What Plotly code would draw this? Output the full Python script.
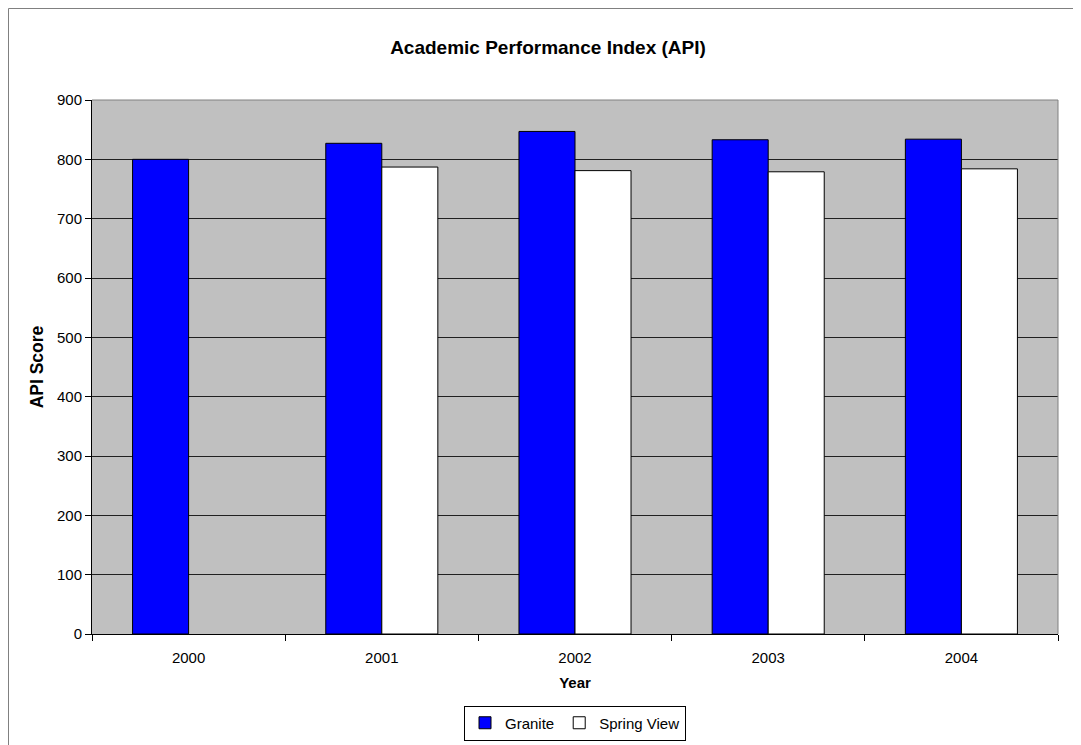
import plotly.graph_objects as go

years = ["2000", "2001", "2002", "2003", "2004"]
granite = [800, 827, 847, 833, 834]
spring_view = [None, 787, 781, 779, 784]

font_family = "Liberation Sans, Arial, sans-serif"

W, H = 1073, 737
ML, MR, MT, MB = 84, 23, 92, 111
PW, PH = W - ML - MR, H - MT - MB

fig = go.Figure()
fig.add_trace(go.Bar(x=years, y=granite, name="Granite",
                     marker=dict(color="#0000FF", line=dict(color="black", width=1))))
fig.add_trace(go.Bar(x=years, y=spring_view, name="Spring View",
                     marker=dict(color="#FFFFFF", line=dict(color="black", width=1))))

fig.update_layout(
    width=W, height=H,
    margin=dict(l=ML, r=MR, t=MT, b=MB, autoexpand=False),
    paper_bgcolor="white",
    plot_bgcolor="#C0C0C0",
    barmode="group",
    bargap=0.42,
    bargroupgap=0,
    font=dict(family=font_family, size=15, color="black"),
    title=dict(text="<b>Academic Performance Index (API)</b>", x=540 / W, xanchor="center",
               y=1 - 39 / H, yanchor="middle", font=dict(size=19, family=font_family)),
    showlegend=True,
    legend=dict(orientation="h", xref="paper", x=0.5, xanchor="center",
                yref="container", y=1 - 715 / H, yanchor="middle",
                bordercolor="black", borderwidth=1, bgcolor="white",
                font=dict(size=15), itemwidth=30, tracegroupgap=0),
    xaxis=dict(title=dict(text="<b>Year</b>", font=dict(size=15), standoff=12),
               automargin=False,
               tickson="boundaries", ticks="outside", ticklen=6, tickcolor="black",
               tickfont=dict(size=15), ticklabelstandoff=10,
               showline=True, linecolor="black", linewidth=1, showgrid=False),
    yaxis=dict(title=dict(text="<b>API Score</b>", font=dict(size=17.5), standoff=8),
               automargin=False,
               range=[0, 900], dtick=100, ticks="outside", ticklen=6, tickcolor="black",
               tickfont=dict(size=15),
               showline=True, linecolor="black", linewidth=1,
               showgrid=True, gridcolor="#202020", gridwidth=1, zeroline=False),
)

# gray top and right border of the plot area
fig.add_shape(type="line", xref="paper", yref="paper", x0=0, x1=1, y0=1, y1=1,
              line=dict(color="#808080", width=1), layer="above")
fig.add_shape(type="line", xref="paper", yref="paper", x0=1, x1=1, y0=0, y1=1,
              line=dict(color="#808080", width=1), layer="above")
# outer chart border (only left and top visible)
fig.add_shape(type="rect", xref="paper", yref="paper",
              x0=-(ML - 0.5) / PW, x1=(PW + MR + 20) / PW,
              y0=-(MB + 20) / PH, y1=1 + (MT - 0.5) / PH,
              line=dict(color="#808080", width=1), layer="above")

fig.write_html("out.html")
